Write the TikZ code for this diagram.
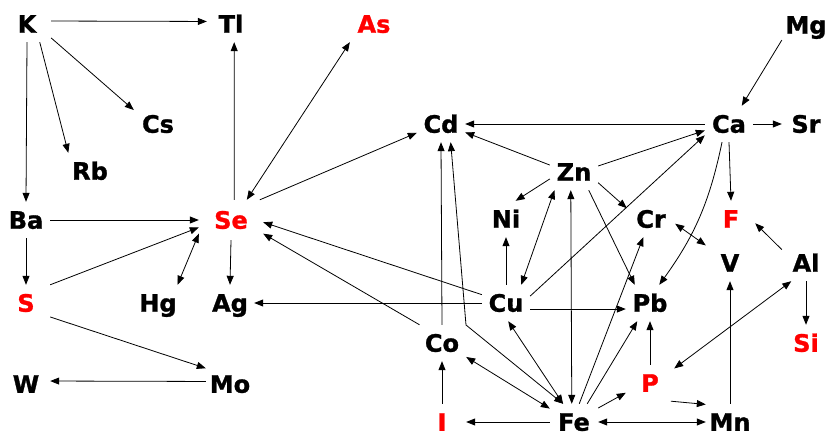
\documentclass[tikz,border=0pt]{standalone}
\usepackage{fontspec}
\setmainfont{DejaVu Sans}[BoldFeatures={FakeBold=1.2}]
\usetikzlibrary{arrows.meta}
\definecolor{elred}{RGB}{255,0,0}
\tikzset{
 el/.style={font=\bfseries\fontsize{24bp}{28bp}\selectfont, text height=17.5bp, text depth=0bp, minimum width=48bp, minimum height=36bp, inner sep=0pt},
 hot/.style={el, text=elred},
 link/.style={line width=0.8bp, -{Triangle[length=9bp,width=7bp]}},
 dlink/.style={line width=0.8bp, {Triangle[length=9bp,width=7bp]}-{Triangle[length=9bp,width=7bp]}},
}
\begin{document}
\begin{tikzpicture}[x=1bp,y=-1bp]
\useasboundingbox (0,0) rectangle (830,433);
\node[el] (K) at (27,24) {K};
\node[el] (Tl) at (231,24) {Tl};
\node[hot] (As) at (374,24) {As};
\node[el] (Mg) at (806,25) {Mg};
\node[el] (Cs) at (158,124) {Cs};
\node[el] (Rb) at (90,171) {Rb};
\node[el] (Cd) at (441,124) {Cd};
\node[el] (Ca) at (729,124) {Ca};
\node[el] (Sr) at (806,124) {Sr};
\node[el] (Zn) at (574,172) {Zn};
\node[el] (Ba) at (26,220) {Ba};
\node[hot, minimum width=64bp, minimum height=40bp] (Se) at (231,220) {Se};
\node[el] (Ni) at (506,219) {Ni};
\node[el] (Cr) at (651,219) {Cr};
\node[hot] (F) at (731,219) {F};
\node[el] (V) at (730,263) {V};
\node[el] (Al) at (806,263) {Al};
\node[hot] (S) at (26,303) {S};
\node[el] (Hg) at (158,303) {Hg};
\node[el] (Ag) at (230,303) {Ag};
\node[el] (Cu) at (506,303) {Cu};
\node[el] (Pb) at (650,303) {Pb};
\node[hot] (Si) at (806,343) {Si};
\node[el] (Co) at (442,343) {Co};
\node[el] (W) at (26,384) {W};
\node[el] (Mo) at (230,384) {Mo};
\node[hot] (P) at (650,383) {P};
\node[hot] (I) at (442,422) {I};
\node[el] (Fe) at (574,422) {Fe};
\node[el] (Mn) at (730,422) {Mn};
\coordinate (cdbend) at (466,325);

\draw[link] (K.7) -- (Tl.174);
\draw[link] (K.-30) -- (Cs.150);
\draw[link] (K.-55) -- (Rb.140);
\draw[link] (K.south) -- (Ba.north);
\draw[link] (Se.81) -- (Tl.-80);
\draw[dlink] (Se.52) -- (As.217);
\draw[link] (Se.35) -- (Cd.200);
\draw[link] (Ba.east) -- (Se.west);
\draw[link] (Ba.south) -- (S.north);
\draw[link] (S.37) -- (Se.193);
\draw[dlink] (Hg.43) -- (Se.203);
\draw[link] (Se.south) -- (Ag.north);
\draw[link] (S.-30) -- (Mo.147);
\draw[link] (Mo.174) -- (W.7);
\draw[link] (Cu.161) -- (Se.-4);
\draw[link] (Co.141) -- (Se.-23);
\draw[link] (Cu.west) -- (Ag.east);
\draw[link] (Ca.west) -- (Cd.east);
\draw[link] (Zn.164) -- (Cd.-19);
\draw[link] (Zn.14) -- (Ca.195);
\draw[link] (Mg.212) -- (Ca.55);
\draw[link] (Ca.east) -- (Sr.west);
\draw[link] (Ca.south) -- (F.north);
\draw[link] (Ca.249) to[bend left=12] (Pb.63);
\draw[link] (Zn.196) -- (Ni.62);
\draw[dlink] (Zn.223) -- (Cu.50);
\draw[dlink] (Zn.-100) -- (Fe.97);
\draw[link] (Zn.-24) -- (Cr.156);
\draw[link] (Zn.-51) -- (Pb.130);
\draw[link] (Cu.16) -- (Ca.205);
\draw[dlink] (Cr.-11) -- (V.144);
\draw[link] (Al.151) -- (F.-10);
\draw[link] (Cu.north) -- (Ni.south);
\draw[link] (Fe.74) -- (Cr.247);
\draw[link] (Fe.54) -- (Pb.235);
\draw[link] (Cu.-14) -- (Pb.194);
\draw[dlink] (Cd.-62) -- (cdbend) -- (Fe.121);
\draw[link] (Co.north) -- (Cd.south);
\draw[dlink] (Co.-30) -- (Fe.151);
\draw[dlink] (Cu.-83) -- (Fe.121);
\draw[link] (Fe.west) -- (I.east);
\draw[link] (I.north) -- (Co.south);
\draw[link] (Fe.30) -- (P.202);
\draw[link] (P.north) -- (Pb.south);
\draw[link] (P.-41) -- (Mn.144);
\draw[dlink] (Fe.east) -- (Mn.west);
\draw[link] (Mn.north) -- (V.south);
\draw[link] (Al.south) -- (Si.north);
\draw[dlink] (Al.231) -- (P.31);
\end{tikzpicture}
\end{document}
